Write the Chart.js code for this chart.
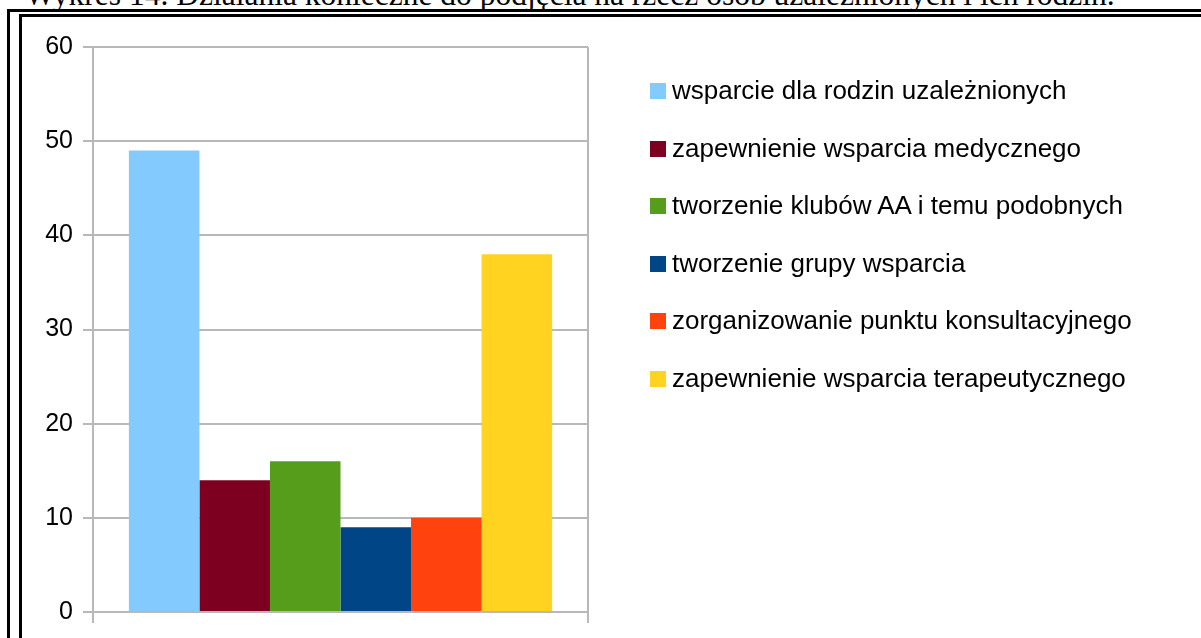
<!DOCTYPE html>
<html lang="pl">
<head>
<meta charset="utf-8">
<title>Wykres 14</title>
<script src="https://cdn.jsdelivr.net/npm/chart.js@4.4.1/dist/chart.umd.min.js"></script>
<style>
  html, body { margin: 0; padding: 0; background: #fff; }
  body { width: 1201px; height: 638px; position: relative; overflow: hidden; }
  #caption {
    position: absolute; left: 25px; top: -23px; white-space: nowrap;
    font-family: "Liberation Serif", "DejaVu Serif", serif; font-size: 31.5px; line-height: 36px; color: #000;
  }
  .rule { position: absolute; background: #000; }
  #chart { position: absolute; left: 0; top: 0; }
  #legend { position: absolute; left: 650px; top: 0; font-family: "Liberation Sans", Arial, sans-serif; font-size: 26px; color: #000; }
  .item { position: absolute; left: 0; white-space: nowrap; line-height: 26px; }
  .swatch { display: inline-block; width: 16px; height: 16px; margin-right: 6px; vertical-align: baseline; }
</style>
</head>
<body>
<div id="caption">Wykres 14. Działania konieczne do podjęcia na rzecz osób uzależnionych i ich rodzin.</div>
<div class="rule" style="left:7px; top:9px; width:1194px; height:3px"></div>
<div class="rule" style="left:19px; top:14px; width:1182px; height:3px"></div>
<div class="rule" style="left:7px; top:9px; width:3px; height:629px"></div>
<div class="rule" style="left:19px; top:14px; width:3px; height:624px"></div>
<canvas id="chart" width="1201" height="638"></canvas>
<div id="legend"></div>
<script>
// --- dane wykresu ---
const categories = [''];
const seriesNames = [
    'wsparcie dla rodzin uzależnionych',
    'zapewnienie wsparcia medycznego',
    'tworzenie klubów AA i temu podobnych',
    'tworzenie grupy wsparcia',
    'zorganizowanie punktu konsultacyjnego',
    'zapewnienie wsparcia terapeutycznego'
];
const seriesValues = [49, 14, 16, 9, 10, 38];
const seriesColors = ['#83caff', '#7e0021', '#579d1c', '#004586', '#ff420e', '#ffd320'];
const yTicks = [0, 10, 20, 30, 40, 50, 60];

const gridColor = '#b8b8b8';

const datasets = seriesNames.map((name, i) => ({
    label: name,
    data: [seriesValues[i]],
    backgroundColor: seriesColors[i],
    borderWidth: 0,
    categoryPercentage: 0.855,
    barPercentage: 1
}));

// legenda (HTML, po prawej)
const legendEl = document.getElementById('legend');
seriesNames.forEach((name, i) => {
    const row = document.createElement('div');
    row.className = 'item';
    row.style.top = (77.3 + i * 57.5) + 'px';
    row.innerHTML = `<span class="swatch" style="background:${seriesColors[i]}"></span>${name}`;
    legendEl.appendChild(row);
});

new Chart(document.getElementById('chart'), {
    type: 'bar',
    data: { labels: categories, datasets },
    options: {
        responsive: false,
        animation: false,
        devicePixelRatio: 1,
        layout: { padding: { left: 0, top: 47, right: 613, bottom: 15 } },
        plugins: { legend: { display: false }, tooltip: { enabled: false } },
        scales: {
            x: {
                ticks: { display: false },
                grid: { offset: true, color: gridColor, lineWidth: 2, tickLength: 11 },
                border: { display: false }
            },
            y: {
                min: yTicks[0],
                max: yTicks[yTicks.length - 1],
                afterBuildTicks: scale => { scale.ticks = yTicks.map(v => ({ value: v })); },
                afterFit: scale => { scale.width = 93; },
                ticks: { padding: 10, color: '#000', font: { family: '"Liberation Sans", Arial, sans-serif', size: 25 } },
                grid: { color: gridColor, lineWidth: 2, tickLength: 10 },
                border: { display: false }
            }
        }
    }
});
</script>
</body>
</html>
